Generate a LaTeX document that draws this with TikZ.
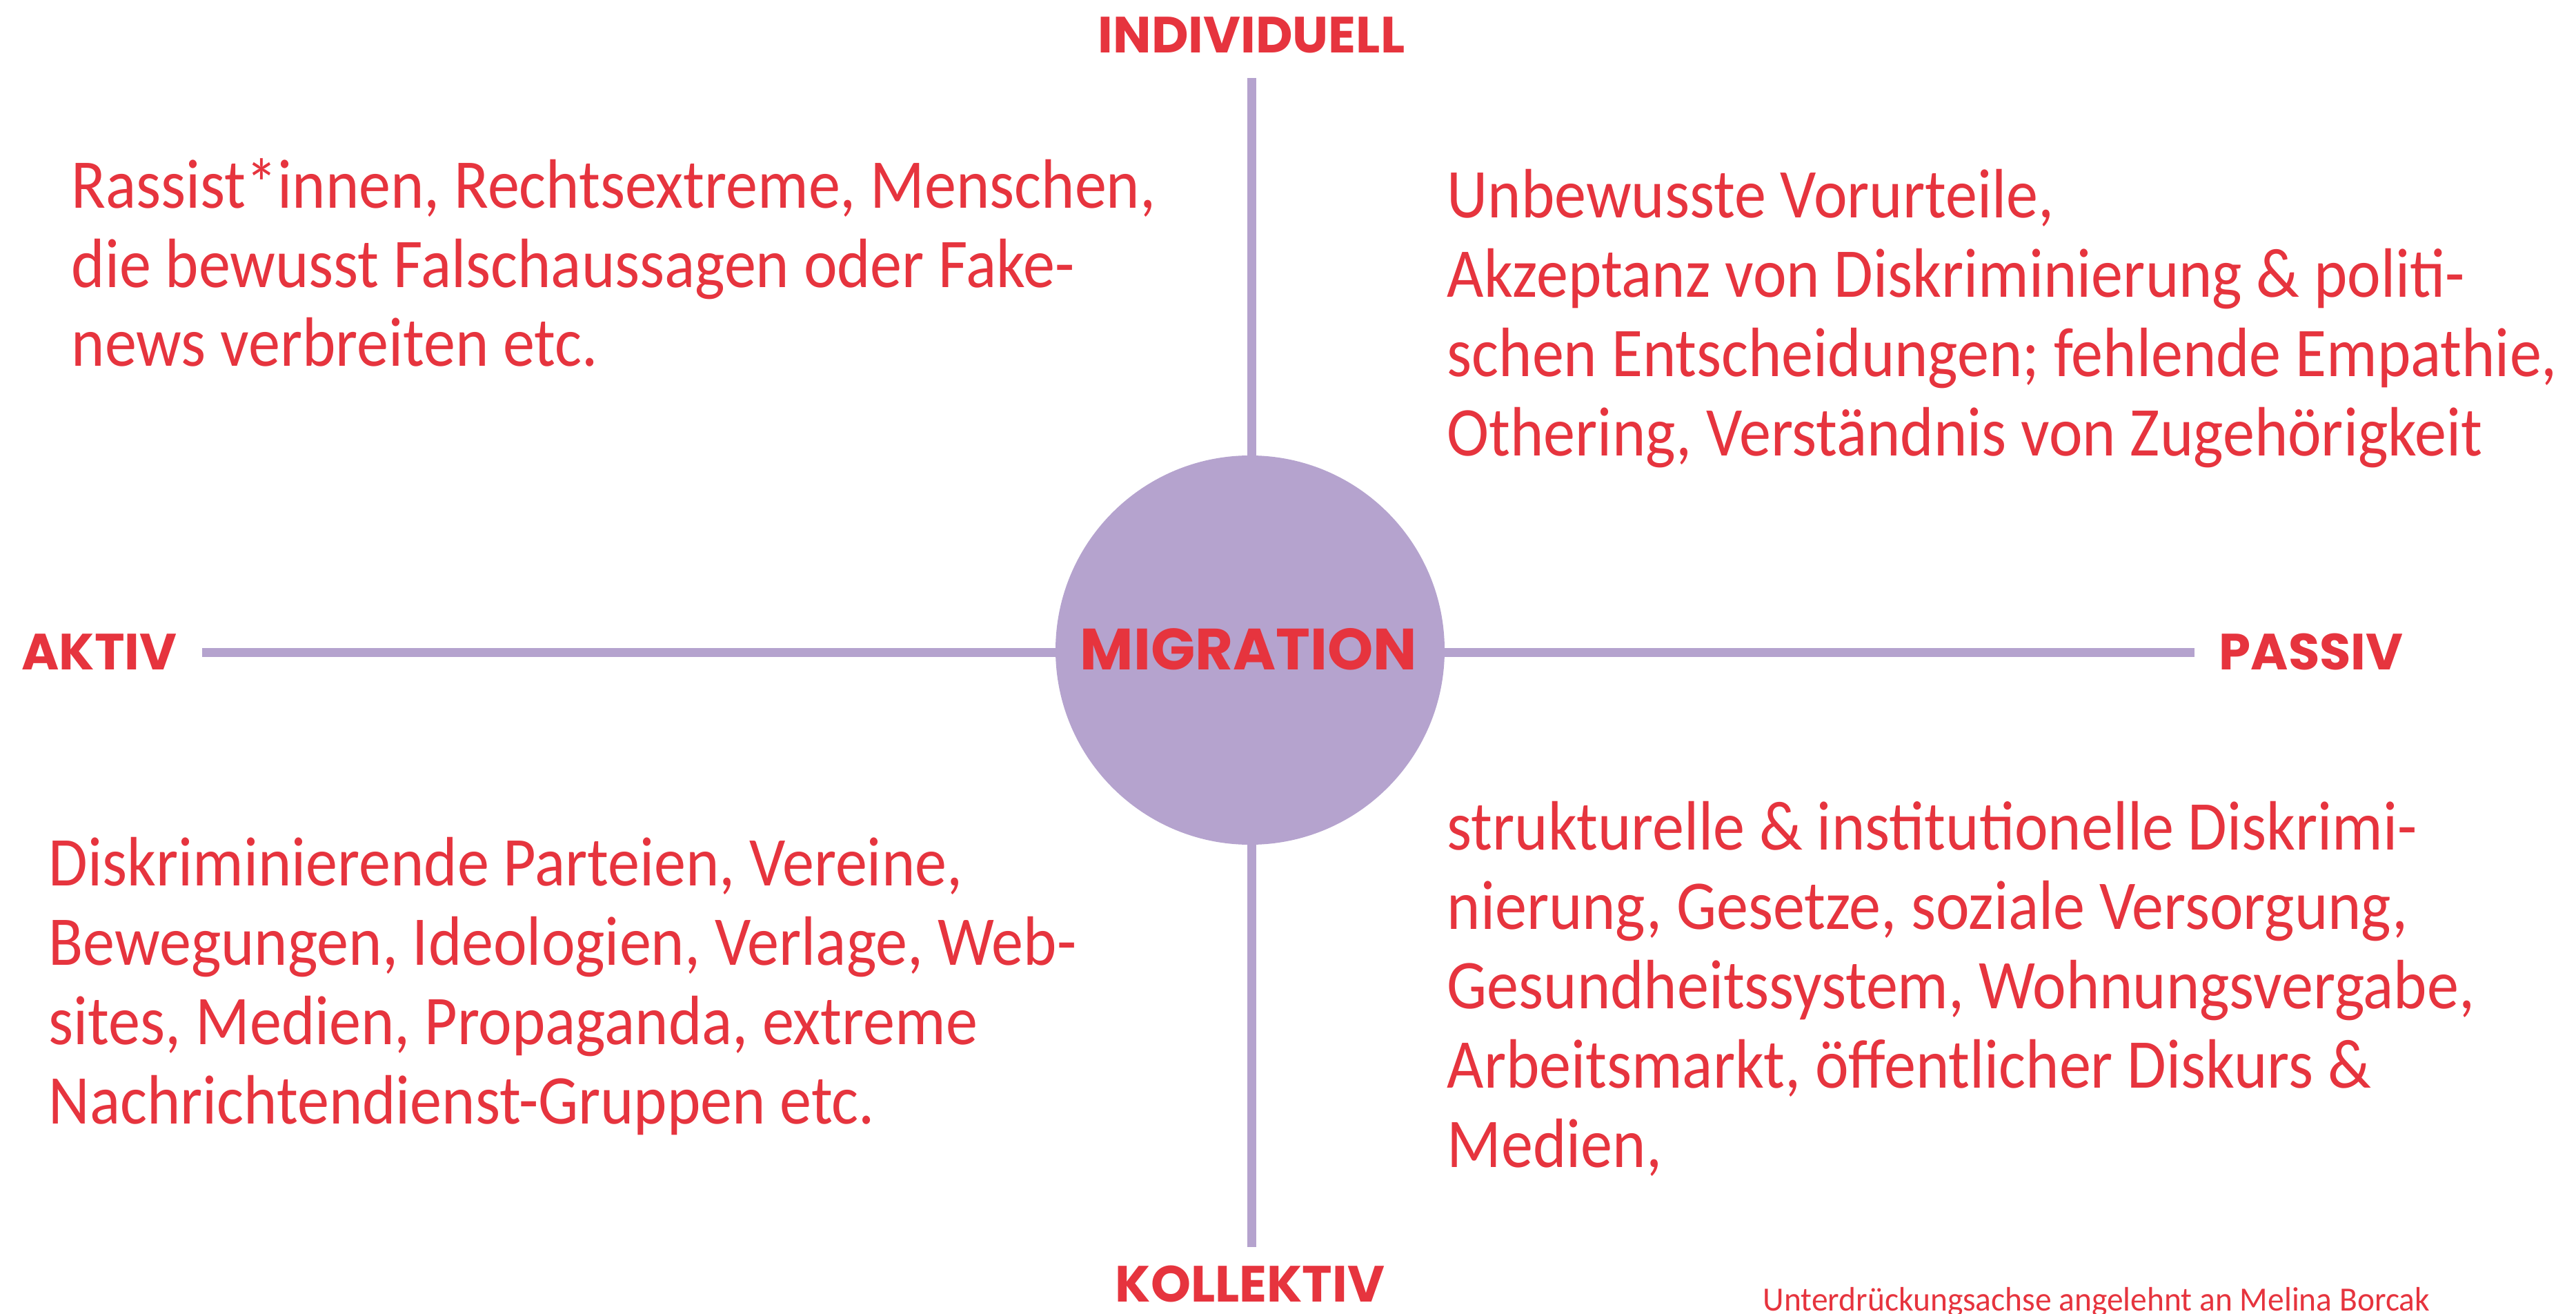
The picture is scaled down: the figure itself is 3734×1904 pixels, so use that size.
\documentclass[tikz,border=0pt]{standalone}
\usepackage{fontspec}
\usepackage{xcolor}
\setmainfont{Carlito}[FakeStretch=0.91]
\newfontfamily\capsfont{Poppins}
\newfontfamily\notefont{Carlito}[FakeStretch=0.965]
\definecolor{mred}{RGB}{230,52,62}
\definecolor{mlila}{RGB}{181,163,206}
\tikzset{
  axis/.style={mlila,line width=3.7pt},
  achse/.style={text=mred,font=\capsfont\bfseries\fontsize{21}{24}\selectfont,inner sep=0pt,anchor=base},
  block/.style={text=mred,font=\fontsize{28.8}{32.7}\selectfont,inner sep=0pt,anchor=base west,align=left},
}

\begin{document}
\begin{tikzpicture}[x=0.1mm,y=-0.1mm]
\useasboundingbox (0,0) rectangle (3734,1904);
% Achsen
\coordinate (oben) at (1814,113);
\coordinate (unten) at (1814,1807);
\coordinate (links) at (293,945);
\coordinate (rechts) at (3181,945);
\draw[axis] (oben) -- (unten);
\draw[axis] (links) -- (rechts);
\node[circle,fill=mlila,minimum size=56.4mm,inner sep=0pt] (mig) at (1812,942) {};
\node[achse,font=\capsfont\bfseries\fontsize{24}{28}\selectfont] (migtext) at (1810,970) {MIGRATION};
\node[achse] (ind) at (1814,77) {INDIVIDUELL};
\node[achse] (kol) at (1812,1886) {KOLLEKTIV};
\node[achse] (akt) at (144,970) {AKTIV};
\node[achse] (pas) at (3350,970) {PASSIV};
% Quadranten (Anker = Grundlinie der letzten Zeile)
\node[block] (tl) at (103,531) {Rassist*innen, Rechtsextreme, Menschen,\\die bewusst Falschaussagen oder Fake-\\news verbreiten etc.};
\node[block] (tr) at (2097,660) {Unbewusste Vorurteile,\\Akzeptanz von Diskriminierung \& politi-\\schen Entscheidungen; fehlende Empathie,\\Othering, Verständnis von Zugehörigkeit};
\node[block] (bl) at (70,1628) {Diskriminierende Parteien, Vereine,\\Bewegungen, Ideologien, Verlage, Web-\\sites, Medien, Propaganda, extreme\\Nachrichtendienst-Gruppen etc.};
\node[block] (br) at (2097,1691) {strukturelle \& institutionelle Diskrimi-\\nierung, Gesetze, soziale Versorgung,\\Gesundheitssystem, Wohnungsvergabe,\\Arbeitsmarkt, öffentlicher Diskurs \&\\Medien,};
\node[text=mred,font=\notefont\fontsize{14}{16}\selectfont,inner sep=0pt,anchor=base west] (quelle) at (2555,1899) {Unterdrückungsachse angelehnt an Melina Borcak};
\end{tikzpicture}
\end{document}
